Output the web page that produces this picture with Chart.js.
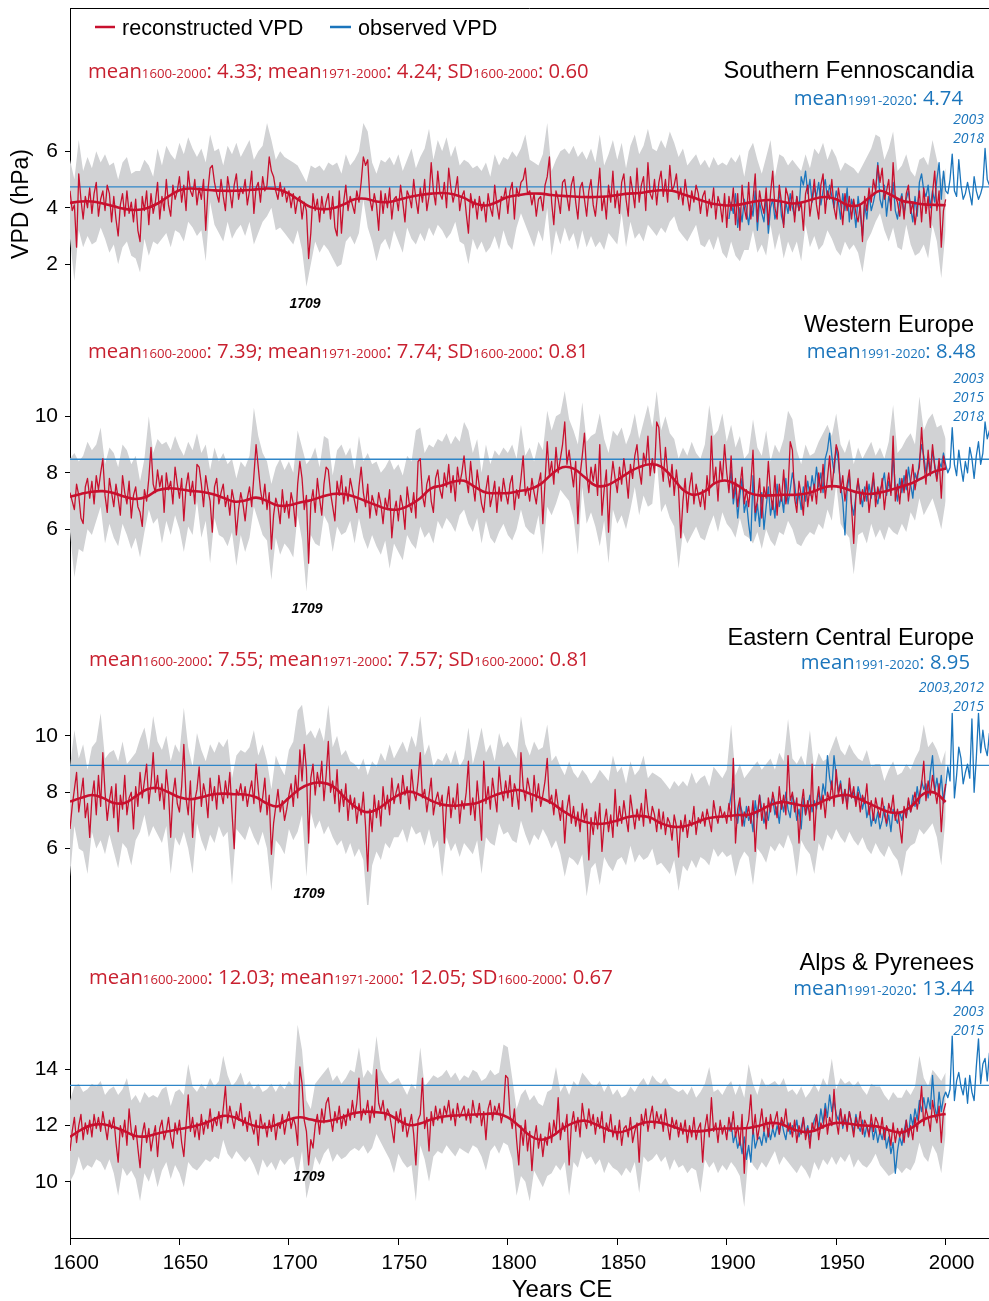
<!DOCTYPE html>
<html>
<head>
<meta charset="utf-8">
<script src="https://cdn.jsdelivr.net/npm/chart.js@4.4.0/dist/chart.umd.min.js"></script>
<style>
  html, body { margin: 0; padding: 0; background: #fff; }
  #wrap { position: relative; width: 989px; height: 1301px; }
</style>
</head>
<body>
<div id="wrap"><canvas id="vpdChart"></canvas></div>
<script>
// first year of each series and spacing between values (years)
const reconStart = 1600
const obsStart = 1901
const bandStep = 2
const smoothStep = 5

const regionNames = ['Southern Fennoscandia', 'Western Europe', 'Eastern Central Europe', 'Alps & Pyrenees']
const reconMeanAll = [4.33, 7.39, 7.55, 12.03]
const reconMeanRecent = [4.24, 7.74, 7.57, 12.05]
const reconSD = [0.60, 0.81, 0.81, 0.67]
const obsMeans = [4.74, 8.48, 8.95, 13.44]
const extremeYears = [['2003', '2018'], ['2003', '2015', '2018'], ['2003,2012', '2015'], ['2003', '2015']]
const markedYear = '1709'

const xTicks = [1600, 1650, 1700, 1750, 1800, 1850, 1900, 1950, 2000]
const yTicks = [[2, 4, 6], [6, 8, 10], [6, 8, 10], [10, 12, 14]]

// ---- Southern Fennoscandia ----
const fennoRecon = [
  4.6, 3.9, 4.1, 2.6, 5.2, 4.3, 3.6, 4.4, 4.0, 4.7,
  3.8, 4.5, 4.9, 3.7, 4.3, 4.6, 3.9, 4.8, 4.5, 3.5,
  4.4, 3.6, 3.0, 4.1, 4.5, 3.7, 4.6, 3.8, 4.2, 3.5,
  4.3, 3.2, 2.8, 4.4, 3.9, 4.6, 3.4, 4.5, 3.8, 4.2,
  4.9, 3.6, 4.4, 3.9, 5.0, 4.1, 3.7, 4.8, 4.3, 4.6,
  5.1, 4.2, 4.8, 3.9, 5.3, 4.6, 4.4, 5.0, 4.1, 4.7,
  4.3, 5.0, 3.2, 4.6, 5.4, 5.5, 4.9, 4.5, 4.2, 5.0,
  4.4, 3.9, 5.1, 4.6, 4.0, 4.8, 5.2, 4.3, 4.7, 4.5,
  5.0, 4.1, 4.6, 5.3, 3.8, 4.7, 4.9, 4.2, 5.1, 4.6,
  4.8, 5.8, 5.3, 5.1, 4.6, 4.3, 4.9, 4.4, 4.7, 4.2,
  4.6, 4.0, 4.5, 3.8, 4.3, 4.4, 3.6, 4.2, 3.9, 2.2,
  3.1, 4.5, 3.9, 4.3, 3.5, 4.4, 3.8, 4.2, 4.5, 3.6,
  4.4, 3.3, 3.0, 4.6, 3.1, 4.2, 4.8, 3.9, 4.4, 4.1,
  3.8, 4.6, 4.2, 4.9, 5.8, 5.5, 5.7, 4.3, 3.9, 4.5,
  4.1, 3.2, 4.6, 3.8, 4.5, 4.0, 4.7, 3.6, 4.3, 4.4,
  3.9, 4.8, 4.2, 3.5, 4.6, 4.4, 4.0, 5.0, 4.3, 3.8,
  4.7, 4.2, 5.0, 3.9, 4.4, 5.6, 4.6, 4.1, 5.3, 4.5,
  4.3, 4.9, 4.0, 5.4, 4.7, 4.2, 4.6, 5.1, 3.9, 4.4,
  4.6, 3.8, 3.1, 4.5, 4.0, 4.3, 3.6, 4.4, 3.9, 4.2,
  3.5, 4.5, 4.0, 3.7, 4.8, 4.1, 3.6, 4.4, 4.3, 4.7,
  3.8, 4.6, 4.9, 3.6, 4.7, 4.4, 4.9, 5.0, 5.4, 4.5,
  4.6, 4.1, 4.5, 3.7, 4.3, 4.4, 3.9, 4.8, 5.1, 5.8,
  4.2, 3.4, 4.6, 4.3, 3.8, 4.9, 5.0, 4.4, 3.9, 4.8,
  5.1, 4.2, 3.6, 4.7, 4.9, 4.3, 3.7, 4.6, 5.0, 4.1,
  3.7, 4.5, 5.4, 3.9, 4.4, 3.6, 4.8, 4.2, 5.3, 4.0,
  4.6, 3.8, 4.9, 5.2, 4.3, 3.7, 5.1, 4.6, 4.0, 5.4,
  4.2, 4.8, 5.1, 3.9, 5.6, 4.5, 4.3, 5.0, 4.1, 4.9,
  5.3, 4.4, 5.0, 4.2, 5.5, 4.6, 4.8, 5.2, 4.3, 4.7,
  4.1, 5.0, 4.4, 3.9, 4.6, 4.2, 4.8, 4.5, 3.8, 4.4,
  4.6, 3.7, 4.3, 4.0, 4.7, 3.6, 4.4, 4.1, 3.5, 4.5,
  3.3, 4.4, 3.9, 4.7, 3.4, 4.5, 3.2, 4.8, 4.0, 3.6,
  4.9, 3.6, 4.3, 5.2, 3.5, 4.6, 4.1, 3.8, 4.7, 3.4,
  4.5, 5.3, 4.0, 3.6, 4.8, 4.2, 3.3, 4.7, 4.4, 3.9,
  4.6, 3.5, 4.4, 3.9, 4.2, 3.2, 4.5, 4.8, 3.7, 4.3,
  5.0, 4.1, 3.6, 4.8, 5.2, 3.8, 4.6, 4.3, 5.0, 4.0,
  3.6, 4.7, 4.2, 3.4, 4.5, 3.9, 4.4, 3.6, 4.3, 3.8,
  3.5, 4.1, 2.8, 4.4, 3.9, 4.7, 4.2, 5.0, 4.6, 5.5,
  4.9, 5.4, 4.3, 4.6, 5.0, 3.9, 5.6, 4.4, 4.2, 3.7,
  4.4, 3.6, 4.5, 4.8, 3.8, 4.2, 3.4, 4.0, 4.6, 3.5,
  4.7, 3.8, 4.4, 3.3, 4.5, 5.3, 3.9, 4.6, 2.6, 3.9,
  4.3
]
const fennoUpper = [
  5.7, 5.0, 6.4, 5.3, 5.8, 5.4, 6.0, 5.6, 5.9, 5.5,
  5.6, 5.0, 5.6, 5.8, 5.2, 5.3, 5.3, 5.7, 5.5, 5.1,
  6.1, 5.5, 6.2, 5.9, 5.7, 6.3, 5.9, 6.5, 6.1, 5.8,
  6.1, 5.6, 6.6, 6.0, 6.1, 5.5, 6.2, 5.9, 6.3, 5.8,
  6.1, 6.4, 5.7, 6.0, 6.2, 7.0, 6.4, 5.7, 6.0, 5.8,
  5.7, 5.6, 5.5, 5.2, 4.9, 5.5, 5.4, 5.5, 5.3, 5.6,
  5.5, 5.6, 5.2, 5.9, 5.5, 5.7, 6.0, 7.0, 6.7, 5.6,
  5.2, 5.7, 5.6, 5.8, 5.5, 5.9, 5.3, 5.7, 6.1, 5.4,
  5.8, 6.1, 6.8, 5.7, 6.4, 6.0, 6.5, 5.8, 6.2, 5.5,
  5.7, 5.6, 5.4, 5.5, 5.3, 5.6, 5.1, 5.9, 5.5, 5.8,
  5.7, 6.0, 5.8, 6.1, 6.6, 5.7, 5.6, 5.5, 5.9, 7.0,
  5.3, 5.7, 6.0, 6.1, 5.9, 6.2, 5.8, 6.0, 5.7, 6.1,
  5.6, 6.6, 5.5, 5.9, 6.4, 5.7, 6.3, 5.4, 6.2, 6.6,
  5.9, 6.2, 6.8, 6.1, 6.0, 6.4, 6.1, 6.7, 6.3, 5.8,
  6.1, 5.5, 5.7, 5.9, 5.5, 5.7, 5.4, 5.8, 5.5, 5.6,
  5.5, 5.8, 5.6, 5.9, 5.1, 6.0, 6.3, 5.7, 5.2, 5.8,
  6.4, 5.1, 5.9, 5.8, 5.5, 5.7, 5.5, 5.3, 5.9, 5.4,
  6.1, 5.9, 6.3, 5.7, 6.1, 5.8, 5.3, 5.6, 5.5, 5.4,
  5.2, 5.5, 5.8, 6.1, 6.6, 6.5, 5.7, 6.1, 6.7, 5.3,
  5.5, 5.9, 5.3, 5.1, 5.7, 5.8, 5.5, 6.4, 5.7, 5.0,
  5.4
]
const fennoLower = [
  2.9, 1.4, 3.2, 2.6, 3.0, 2.7, 2.8, 3.3, 2.9, 2.4,
  2.7, 2.0, 2.6, 2.8, 2.3, 2.2, 1.7, 2.9, 2.3, 2.8,
  2.7, 2.9, 3.1, 2.6, 3.2, 3.1, 2.8, 3.5, 3.3, 3.0,
  3.2, 2.1, 4.2, 3.4, 3.1, 2.8, 3.5, 2.9, 3.2, 3.4,
  3.0, 3.5, 2.7, 3.1, 3.5, 3.7, 4.0, 3.2, 3.3, 3.1,
  2.9, 2.7, 3.2, 2.5, 1.2, 2.0, 2.8, 2.4, 2.7, 2.5,
  2.2, 1.9, 2.0, 2.8, 3.0, 2.7, 3.1, 4.3, 3.3, 2.8,
  2.1, 2.7, 2.9, 2.5, 3.2, 2.8, 2.4, 3.3, 2.9, 2.7,
  3.1, 2.8, 3.3, 3.0, 3.4, 3.2, 2.9, 3.1, 3.5, 2.8,
  2.7, 2.0, 2.9, 2.5, 2.8, 2.4, 2.6, 3.0, 2.5, 3.2,
  2.7, 2.5, 3.3, 3.8, 3.4, 3.0, 2.6, 3.2, 2.8, 4.0,
  2.3, 3.2, 2.7, 3.3, 2.8, 3.1, 2.5, 3.2, 2.6, 3.0,
  2.6, 2.8, 2.5, 3.1, 2.9, 2.7, 3.8, 2.6, 3.5, 2.9,
  3.1, 2.8, 3.4, 3.2, 3.0, 3.3, 3.1, 3.5, 3.7, 3.2,
  3.0, 2.8, 3.1, 3.4, 2.7, 2.6, 2.9, 2.5, 3.0, 2.4,
  2.2, 2.8, 2.3, 2.1, 2.5, 2.5, 3.2, 2.4, 2.7, 2.3,
  3.4, 2.5, 3.1, 2.2, 2.8, 2.4, 2.8, 2.1, 3.4, 2.6,
  3.0, 2.5, 2.7, 3.2, 2.9, 2.5, 2.3, 2.8, 2.5, 2.7,
  2.4, 1.7, 2.8, 3.1, 3.5, 3.8, 3.2, 2.8, 3.3, 2.6,
  2.5, 3.4, 2.7, 2.3, 2.4, 2.7, 2.2, 3.4, 2.8, 1.5,
  3.2
]
const fennoSmooth = [
  4.17, 4.22, 4.22, 4.15, 4.05, 3.96, 3.92, 3.98, 4.15, 4.4,
  4.62, 4.68, 4.65, 4.62, 4.6, 4.6, 4.62, 4.65, 4.68, 4.65,
  4.5, 4.25, 4.02, 3.95, 3.98, 4.12, 4.3, 4.32, 4.22, 4.2,
  4.28, 4.38, 4.45, 4.5, 4.52, 4.48, 4.35, 4.15, 4.08, 4.2,
  4.38, 4.45, 4.5, 4.5, 4.45, 4.42, 4.4, 4.38, 4.38, 4.4,
  4.45, 4.5, 4.52, 4.58, 4.62, 4.6, 4.48, 4.35, 4.22, 4.12,
  4.08, 4.1, 4.18, 4.25, 4.27, 4.22, 4.15, 4.2, 4.32, 4.38,
  4.3, 4.1, 4.08, 4.35, 4.6, 4.45, 4.25, 4.18, 4.12, 4.1,
  4.09
]
const fennoObs = [
  3.6, 4.2, 3.8, 4.5, 3.3, 4.0, 3.5, 4.3, 3.9, 3.4,
  4.1, 3.7, 4.6, 3.2, 4.2, 3.8, 3.5, 4.4, 3.1, 4.0,
  4.3, 3.6, 3.9, 4.6, 3.7, 3.4, 4.2, 3.8, 4.5, 4.0,
  3.7, 4.4, 3.9, 5.1, 4.8, 5.3, 4.5, 5.0, 4.2, 4.7,
  4.4, 4.9, 4.1, 4.6, 5.0, 4.3, 4.8, 4.4, 4.0, 4.6,
  4.2, 3.6, 4.5, 3.9, 4.7, 3.5, 4.3, 4.0, 3.3, 4.4,
  3.8, 3.0, 4.1, 3.6, 4.5, 3.9, 4.2, 4.6, 5.6, 4.3,
  4.0, 4.8, 3.7, 4.4, 4.1, 4.9, 3.9, 3.6, 4.2, 4.5,
  3.8, 4.3, 4.6, 4.0, 3.5, 4.4, 3.7, 4.9, 5.2, 4.6,
  4.4, 4.8, 4.0, 4.6, 4.2, 5.0, 5.6, 4.3, 5.3, 4.6,
  4.5, 5.0, 5.9, 4.6, 4.4, 5.7, 4.8, 4.3, 4.5, 4.9,
  4.5, 4.1, 5.1, 4.6, 4.3, 4.5, 4.8, 6.1, 5.0, 4.8
]

// ---- Western Europe ----
const westRecon = [
  7.3, 7.0, 6.7, 7.6, 7.2, 6.4, 6.2, 7.5, 7.8, 7.1,
  7.7, 6.9, 7.9, 7.4, 8.0, 8.5, 7.2, 6.6, 7.8, 7.3,
  6.8, 7.6, 7.1, 6.5, 7.9, 7.3, 6.9, 7.7, 6.4, 7.2,
  7.5, 6.8, 6.6, 6.1, 7.4, 7.0, 7.8, 8.9, 7.6, 7.3,
  8.1, 7.5, 7.9, 6.6, 8.0, 7.4, 7.7, 6.9, 8.2, 7.6,
  7.1, 7.8, 6.3, 7.5, 8.0, 7.2, 7.7, 6.9, 8.3, 8.2,
  7.6, 6.8, 7.9, 7.4, 7.0, 5.9, 7.5, 7.8, 6.9, 7.3,
  7.6, 6.8, 7.2, 6.5, 7.4, 7.0, 5.8, 6.7, 7.3, 6.9,
  6.3, 7.1, 7.5, 6.8, 7.9, 9.0, 8.2, 7.4, 6.9, 7.6,
  6.7, 7.3, 5.3, 6.5, 7.1, 6.8, 6.2, 7.4, 6.6, 7.0,
  6.4, 7.3, 6.9, 6.1, 7.6, 8.4, 7.8, 6.7, 7.2, 4.8,
  6.9, 7.4, 6.6, 7.8, 7.1, 6.5, 7.6, 8.2, 8.1, 7.3,
  6.8, 6.3, 7.7, 7.2, 7.9, 6.9, 7.5, 7.0, 7.8, 7.4,
  7.0, 6.6, 7.5, 8.2, 7.3, 6.8, 7.6, 6.4, 7.2, 6.9,
  6.5, 7.3, 6.9, 6.2, 7.1, 6.7, 7.4, 5.7, 6.6, 7.0,
  6.3, 7.2, 6.8, 6.0, 7.5, 6.9, 6.6, 7.3, 6.4, 8.4,
  8.5, 7.2, 6.8, 7.6, 7.9, 7.0, 6.6, 7.8, 8.1, 7.4,
  7.1, 8.0, 7.5, 8.3, 7.3, 7.9, 7.0, 8.2, 7.6, 8.0,
  8.6, 7.8, 7.3, 8.4, 7.6, 7.0, 8.1, 7.5, 6.9, 6.6,
  7.4, 7.9, 6.8, 7.2, 7.7, 6.6, 7.5, 7.0, 7.8, 7.3,
  6.9, 7.6, 7.9, 6.7, 7.4, 7.1, 7.8, 8.6, 7.2, 7.5,
  7.0, 7.8, 7.3, 6.9, 7.6, 8.0, 6.2, 7.7, 9.1, 7.9,
  8.4, 7.6, 8.9, 8.0, 8.5, 9.0, 9.8, 8.3, 8.8, 8.1,
  7.5, 8.4, 6.2, 7.9, 8.6, 9.4, 8.0, 7.3, 8.2, 7.7,
  8.3, 7.2, 9.0, 6.5, 7.4, 8.1, 5.9, 7.6, 8.4, 7.8,
  7.3, 8.2, 7.6, 8.5, 7.9, 7.1, 8.3, 7.8, 8.6, 9.0,
  8.1, 7.6, 8.7, 8.3, 9.3, 7.9, 8.5, 8.0, 9.8, 9.6,
  8.4, 7.7, 8.9, 8.0, 7.5, 8.3, 7.2, 8.1, 7.4, 5.7,
  7.0, 7.8, 6.6, 7.5, 8.0, 6.9, 7.6, 7.2, 6.8, 7.4,
  6.7, 7.9, 7.2, 9.3, 7.6, 8.2, 7.0, 8.4, 7.7, 9.0,
  8.0, 7.3, 8.6, 7.1, 7.8, 6.8, 7.5, 8.2, 6.9, 7.4,
  6.8, 7.6, 8.8, 6.6, 7.0, 7.8, 6.4, 7.5, 7.1, 8.4,
  7.3, 6.7, 7.9, 6.5, 7.6, 7.0, 8.1, 6.9, 7.4, 9.1,
  8.8, 7.1, 6.6, 7.7, 7.2, 6.5, 7.9, 6.8, 7.5, 7.0,
  7.6, 6.9, 8.0, 7.3, 8.3, 7.1, 7.8, 8.6, 7.4, 8.2,
  9.0, 8.7, 7.3, 7.9, 7.0, 7.6, 8.1, 6.8, 5.5, 7.2,
  7.8, 6.9, 7.4, 7.0, 7.7, 6.6, 7.3, 8.0, 6.8, 7.5,
  7.1, 7.8, 6.7, 7.4, 8.0, 7.2, 9.3, 7.0, 7.6, 6.9,
  7.8, 7.3, 8.1, 7.0, 7.7, 8.3, 7.4, 7.9, 8.2, 9.6,
  8.4, 7.6, 8.8, 7.9, 9.0, 8.2, 7.7, 8.5, 7.1, 8.6,
  8.1
]
const westUpper = [
  8.5, 8.7, 8.4, 8.6, 9.1, 8.8, 9.0, 9.6, 8.3, 8.9,
  8.7, 8.2, 9.0, 8.8, 8.3, 8.6, 7.7, 8.5, 10.0, 8.7,
  9.2, 9.0, 9.1, 8.8, 9.3, 8.9, 8.6, 9.1, 8.8, 9.4,
  8.7, 9.0, 8.1, 8.9, 8.4, 8.7, 8.3, 8.5, 7.8, 8.4,
  8.2, 8.6, 10.3, 9.3, 8.7, 8.4, 7.6, 8.2, 8.5, 8.1,
  8.4, 8.0, 9.5, 8.9, 8.3, 8.5, 8.9, 8.2, 9.3, 9.2,
  7.9, 8.8, 9.0, 8.6, 8.9, 8.1, 9.3, 8.4, 8.7, 8.3,
  8.4, 8.0, 8.2, 8.5, 8.1, 8.3, 7.9, 8.6, 8.4, 9.5,
  9.6, 8.7, 9.0, 8.9, 9.2, 9.1, 9.4, 9.0, 9.3, 9.1,
  9.8, 9.5, 8.7, 9.2, 8.0, 9.0, 8.3, 8.8, 8.6, 8.9,
  8.7, 9.0, 8.5, 9.7, 8.6, 8.9, 8.4, 9.1, 8.8, 10.2,
  9.5, 10.0, 10.1, 10.9, 9.9, 9.5, 9.0, 10.5, 9.1, 9.3,
  9.4, 10.1, 9.2, 8.7, 9.5, 9.3, 9.6, 9.0, 9.4, 10.1,
  9.2, 9.8, 10.4, 9.6, 10.9, 9.5, 10.0, 9.4, 9.2, 8.5,
  8.9, 8.6, 9.1, 8.7, 8.5, 9.0, 10.4, 9.3, 9.5, 10.1,
  9.1, 9.7, 8.9, 9.3, 8.5, 8.7, 9.9, 8.9, 8.6, 9.5,
  8.4, 9.0, 8.7, 9.2, 10.2, 9.9, 8.8, 8.3, 9.0, 8.6,
  8.7, 9.1, 9.4, 9.7, 9.3, 10.1, 9.0, 8.7, 9.2, 8.3,
  8.9, 8.5, 8.8, 9.1, 8.6, 8.9, 8.5, 9.1, 10.4, 8.7,
  8.9, 9.2, 9.4, 9.0, 10.7, 9.5, 9.9, 10.1, 9.6, 9.7,
  9.2
]
const westLower = [
  5.9, 4.3, 5.3, 5.2, 6.0, 5.8, 6.3, 6.8, 5.5, 6.2,
  5.7, 5.4, 6.2, 5.8, 5.3, 5.7, 5.0, 5.9, 6.7, 6.2,
  6.4, 5.5, 6.3, 5.8, 6.5, 6.0, 5.2, 6.1, 5.8, 7.0,
  5.7, 6.3, 4.8, 6.4, 5.8, 5.7, 5.4, 5.9, 4.7, 5.8,
  5.2, 5.7, 6.8, 6.3, 5.8, 5.6, 4.2, 5.7, 5.1, 5.5,
  5.3, 5.0, 6.5, 5.6, 3.8, 5.8, 5.5, 5.4, 6.5, 6.2,
  5.2, 6.1, 5.8, 5.9, 6.3, 5.5, 6.4, 5.7, 5.3, 5.8,
  5.4, 5.1, 5.6, 4.6, 5.5, 5.2, 4.9, 5.8, 5.5, 5.3,
  6.1, 5.7, 5.9, 5.5, 6.3, 6.0, 6.4, 6.2, 5.9, 6.5,
  6.7, 6.2, 5.9, 6.4, 5.5, 6.3, 5.7, 5.5, 5.9, 6.2,
  5.8, 5.6, 6.0, 6.7, 6.1, 5.9, 5.8, 6.5, 5.1, 6.8,
  6.5, 6.9, 7.4, 7.2, 7.0, 6.4, 5.1, 7.5, 6.2, 6.6,
  6.1, 5.4, 6.3, 4.8, 6.7, 6.2, 6.5, 6.0, 6.7, 7.5,
  6.5, 7.2, 6.8, 6.9, 8.5, 6.6, 6.9, 6.4, 6.1, 4.6,
  5.9, 5.5, 5.8, 6.1, 5.7, 5.6, 6.1, 6.5, 5.9, 6.6,
  6.2, 6.0, 5.7, 6.4, 5.8, 5.7, 5.5, 5.9, 5.3, 6.0,
  5.6, 5.4, 5.9, 5.8, 6.3, 6.0, 5.5, 5.4, 5.7, 5.9,
  5.8, 6.2, 6.0, 6.7, 6.3, 7.6, 6.2, 5.9, 5.7, 4.4,
  5.8, 5.9, 5.5, 6.2, 5.7, 6.0, 5.6, 6.1, 5.9, 5.8,
  6.2, 5.9, 6.6, 6.3, 7.1, 6.5, 6.8, 7.1, 6.6, 6.0,
  7.0
]
const westSmooth = [
  7.15, 7.25, 7.33, 7.35, 7.28, 7.15, 7.07, 7.15, 7.38, 7.45,
  7.42, 7.36, 7.33, 7.25, 7.12, 6.98, 7.02, 7.12, 7.0, 6.84,
  6.85, 6.95, 7.03, 7.15, 7.25, 7.25, 7.15, 7.0, 6.85, 6.72,
  6.7, 6.85, 7.1, 7.45, 7.55, 7.68, 7.72, 7.5, 7.3, 7.28,
  7.28, 7.35, 7.42, 7.6, 7.95, 8.2, 8.15, 7.85, 7.55, 7.55,
  7.75, 8.0, 8.2, 8.3, 8.22, 7.85, 7.4, 7.22, 7.35, 7.65,
  7.72, 7.55, 7.3, 7.2, 7.2, 7.22, 7.22, 7.25, 7.35, 7.5,
  7.52, 7.42, 7.3, 7.25, 7.3, 7.4, 7.52, 7.65, 7.85, 8.05,
  8.15
]
const westObs = [
  7.4, 8.1, 6.9, 7.5, 6.4, 7.2, 7.8, 6.6, 7.0, 6.2,
  5.6, 7.9, 6.3, 6.9, 6.1, 7.3, 6.0, 6.8, 7.5, 6.5,
  7.0, 6.4, 7.6, 6.8, 7.2, 6.6, 7.8, 6.9, 7.4, 8.0,
  7.6, 6.9, 7.3, 6.7, 7.5, 7.0, 7.7, 7.2, 7.9, 7.4,
  8.2, 7.5, 8.0, 7.3, 8.5, 8.8, 9.4, 8.6, 8.0, 8.9,
  8.4, 7.6, 7.0, 5.8, 7.4, 7.9, 6.9, 6.5, 7.2, 7.7,
  7.3, 6.8, 7.5, 7.0, 7.6, 7.1, 7.8, 7.2, 6.9, 7.4,
  7.6, 8.0, 7.2, 7.7, 7.3, 8.6, 7.5, 7.0, 7.8, 7.3,
  7.9, 7.4, 8.2, 7.6, 7.1, 8.0, 7.7, 8.4, 9.0, 8.6,
  8.0, 8.5, 7.9, 8.8, 8.3, 7.8, 8.4, 8.2, 8.7, 8.3,
  8.0, 8.2, 9.6, 8.3, 7.9, 8.8, 8.2, 7.7, 8.4, 8.0,
  8.9, 8.5, 7.8, 8.6, 9.1, 8.3, 8.7, 9.8, 9.2, 9.5
]

// ---- Eastern Central Europe ----
const eastRecon = [
  6.7, 7.5, 8.1, 8.7, 7.3, 7.9, 8.5, 7.1, 7.6, 6.4,
  7.8, 8.4, 7.2, 8.6, 7.5, 9.4, 8.0, 7.0, 7.7, 8.2,
  7.1, 8.3, 6.6, 7.9, 7.4, 8.6, 7.2, 7.8, 8.0, 6.7,
  8.2, 7.5, 8.7, 7.8, 8.4, 9.0, 7.6, 8.3, 9.4, 8.0,
  8.6, 7.7, 8.3, 7.4, 8.8, 8.0, 6.4, 7.9, 8.5, 7.6,
  7.3, 8.2, 9.7, 7.8, 7.2, 8.4, 6.4, 7.7, 8.1, 8.9,
  7.5, 8.3, 7.9, 7.1, 8.5, 7.7, 8.2, 7.4, 8.6, 8.0,
  7.6, 8.4, 7.8, 8.7, 7.3, 6.0, 8.1, 7.9, 8.3, 7.7,
  8.2, 7.5, 8.0, 8.4, 7.6, 9.0, 8.1, 7.3, 7.8, 8.5,
  7.2, 7.9, 5.8, 6.9, 7.5, 8.1, 7.3, 7.7, 7.0, 7.4,
  7.9, 8.3, 7.5, 8.6, 7.8, 9.5, 8.4, 9.7, 8.8, 6.2,
  8.5, 9.0, 7.9, 8.7, 8.2, 9.1, 7.7, 8.6, 9.8, 8.0,
  8.4, 7.6, 8.8, 7.3, 8.1, 7.5, 8.3, 7.0, 7.9, 7.4,
  7.8, 6.9, 7.6, 7.2, 8.0, 6.8, 5.2, 7.4, 6.6, 7.9,
  7.1, 7.7, 6.8, 8.2, 7.4, 7.9, 7.2, 8.5, 7.6, 8.0,
  8.3, 7.6, 8.6, 7.9, 8.2, 7.4, 8.8, 8.0, 7.7, 8.4,
  9.4, 7.8, 8.1, 7.3, 7.9, 8.5, 7.2, 7.7, 8.0, 7.5,
  7.9, 6.2, 7.6, 8.2, 7.1, 7.8, 7.4, 8.3, 6.9, 7.7,
  7.4, 8.0, 9.1, 7.2, 7.8, 7.0, 8.4, 7.5, 6.3, 9.1,
  7.6, 8.2, 7.4, 8.5, 7.9, 7.3, 8.9, 8.1, 7.7, 8.4,
  7.8, 8.6, 7.5, 8.3, 8.0, 7.4, 9.4, 8.2, 7.7, 8.5,
  8.1, 7.3, 8.6, 7.7, 8.3, 7.5, 7.9, 8.4, 9.2, 7.6,
  7.9, 7.2, 8.1, 7.5, 7.0, 7.7, 6.2, 7.4, 7.9, 6.9,
  7.5, 6.8, 7.3, 6.6, 7.6, 7.0, 7.4, 5.6, 7.1, 6.5,
  7.3, 6.7, 7.6, 5.9, 6.9, 7.4, 6.6, 7.2, 6.4, 8.1,
  6.8, 7.5, 6.9, 7.7, 7.1, 6.6, 7.9, 7.3, 6.7, 7.4,
  7.0, 7.6, 6.8, 8.1, 7.3, 6.9, 7.5, 7.2, 6.6, 7.4,
  6.7, 7.3, 6.5, 7.1, 6.9, 6.3, 7.2, 6.8, 5.7, 7.0,
  6.6, 7.2, 6.4, 7.0, 6.8, 7.5, 6.5, 7.1, 6.9, 7.3,
  6.8, 7.4, 7.0, 6.6, 7.7, 7.2, 6.9, 7.5, 7.1, 7.3,
  6.9, 7.6, 7.0, 9.2, 6.2, 7.4, 7.8, 6.8, 7.3, 7.1,
  7.5, 6.9, 7.7, 5.9, 7.2, 7.9, 7.0, 7.6, 6.7, 7.8,
  7.3, 8.0, 7.6, 7.1, 8.2, 7.4, 7.9, 7.2, 9.3, 7.7,
  8.0, 7.3, 7.8, 6.2, 7.5, 8.1, 7.2, 7.7, 7.0, 9.0,
  6.3, 7.6, 8.2, 7.4, 7.9, 7.1, 8.0, 7.7, 8.4, 7.5,
  8.8, 7.9, 8.3, 7.6, 8.1, 7.4, 8.5, 7.8, 8.2, 7.5,
  8.0, 7.3, 7.9, 7.6, 8.3, 7.2, 7.7, 7.0, 7.8, 7.4,
  7.1, 7.8, 7.2, 6.9, 7.6, 7.3, 7.9, 7.0, 7.4, 6.8,
  6.2, 7.5, 7.1, 7.8, 7.3, 7.6, 8.0, 7.4, 7.9, 8.3,
  9.1, 7.7, 8.4, 7.9, 8.6, 8.1, 7.6, 8.3, 6.6, 7.8,
  8.3
]
const eastUpper = [
  8.9, 10.2, 9.2, 9.7, 8.8, 9.6, 9.8, 10.8, 9.2, 9.4,
  9.5, 9.1, 9.8, 9.0, 9.2, 9.4, 9.9, 10.3, 9.5, 10.7,
  9.8, 9.5, 10.0, 9.1, 9.7, 9.4, 11.0, 9.6, 8.9, 10.1,
  9.5, 9.1, 9.7, 9.4, 9.8, 9.6, 9.9, 8.5, 9.3, 9.5,
  9.4, 9.6, 10.2, 9.3, 9.7, 9.1, 8.1, 9.3, 8.9, 8.6,
  9.5, 9.8, 10.9, 11.1, 10.0, 10.2, 9.9, 10.3, 9.8, 11.1,
  9.6, 10.0, 9.3, 9.5, 9.1, 9.0, 8.8, 9.2, 8.6, 9.1,
  8.9, 9.4, 9.1, 9.7, 9.2, 9.5, 9.8, 9.4, 10.0, 9.6,
  10.7, 9.3, 9.7, 8.9, 9.2, 9.1, 9.4, 9.0, 9.5, 8.9,
  9.2, 10.3, 9.0, 9.6, 10.3, 9.4, 9.7, 9.1, 10.1, 9.6,
  9.8, 9.5, 9.2, 10.7, 9.7, 9.3, 9.8, 9.5, 9.6, 10.4,
  9.1, 9.3, 8.9, 8.6, 9.1, 8.7, 8.5, 8.8, 8.6, 8.3,
  8.5, 8.8, 8.6, 8.4, 9.3, 8.7, 8.9, 8.3, 9.1, 8.6,
  8.8, 9.3, 8.5, 8.7, 8.6, 8.5, 8.3, 8.1, 8.4, 8.2,
  8.4, 8.2, 8.7, 8.3, 8.5, 8.6, 8.2, 8.9, 8.7, 8.5,
  8.8, 10.4, 8.6, 9.0, 8.5, 8.7, 8.9, 9.1, 8.8, 9.0,
  9.2, 8.8, 9.4, 9.1, 10.6, 9.2, 9.0, 9.3, 8.9, 10.2,
  8.8, 9.4, 9.1, 9.2, 9.6, 10.0, 9.5, 9.3, 9.7, 9.4,
  9.2, 9.1, 9.5, 8.9, 9.0, 9.0, 8.4, 8.8, 9.1, 8.6,
  8.7, 9.0, 8.8, 9.2, 9.5, 10.4, 9.6, 9.8, 9.5, 9.0,
  9.5
]
const eastLower = [
  5.0, 6.8, 6.0, 5.9, 5.1, 6.6, 6.0, 6.3, 5.8, 6.5,
  5.9, 5.3, 6.2, 6.0, 5.4, 6.3, 6.6, 7.2, 6.4, 6.8,
  6.5, 6.2, 6.8, 5.1, 6.4, 6.1, 6.6, 6.0, 5.1, 6.9,
  6.3, 5.9, 6.5, 6.2, 6.8, 6.4, 6.6, 4.7, 6.7, 6.5,
  6.3, 6.8, 6.4, 6.1, 6.6, 6.0, 4.5, 6.3, 6.1, 5.8,
  6.7, 6.3, 6.6, 7.2, 5.0, 7.3, 6.7, 7.0, 6.5, 6.8,
  6.4, 6.1, 6.3, 5.8, 6.2, 5.7, 6.0, 5.6, 3.7, 5.4,
  5.9, 5.6, 6.2, 6.0, 6.4, 6.4, 6.7, 6.2, 6.8, 6.5,
  6.6, 6.1, 6.7, 6.0, 6.3, 5.0, 6.4, 5.9, 6.2, 5.7,
  6.2, 6.0, 5.8, 6.3, 5.1, 6.4, 6.2, 6.1, 6.9, 6.5,
  6.6, 6.3, 6.2, 7.0, 6.5, 6.1, 6.5, 6.3, 6.7, 6.4,
  6.0, 6.3, 5.8, 5.0, 5.7, 5.6, 5.4, 5.8, 4.3, 5.3,
  5.5, 4.7, 5.7, 5.4, 5.2, 5.6, 5.7, 5.4, 6.1, 5.5,
  5.8, 5.6, 5.7, 6.0, 5.4, 5.5, 5.3, 5.1, 5.6, 4.5,
  5.4, 5.2, 5.6, 5.3, 5.7, 5.6, 5.4, 6.0, 5.7, 5.9,
  5.7, 5.8, 5.0, 5.6, 5.9, 5.7, 4.7, 6.0, 5.8, 5.5,
  6.1, 5.9, 6.2, 6.0, 6.5, 6.1, 5.0, 6.3, 6.0, 5.8,
  5.1, 6.2, 5.9, 6.5, 6.3, 6.7, 6.4, 6.2, 6.6, 6.3,
  6.1, 6.4, 6.0, 5.8, 6.2, 5.9, 5.7, 6.1, 5.8, 5.6,
  5.0, 5.9, 6.1, 6.2, 6.7, 6.5, 6.7, 6.9, 6.4, 5.4,
  7.1
]
const eastSmooth = [
  7.67, 7.8, 7.9, 7.8, 7.62, 7.62, 7.85, 8.1, 8.15, 8.0,
  7.82, 7.75, 7.82, 7.92, 7.95, 7.93, 7.92, 7.82, 7.6, 7.5,
  7.8, 8.12, 8.3, 8.34, 8.22, 7.85, 7.5, 7.3, 7.38, 7.65,
  7.9, 8.02, 7.9, 7.7, 7.56, 7.52, 7.56, 7.6, 7.75, 7.92,
  8.02, 8.08, 7.95, 7.8, 7.62, 7.35, 7.12, 6.95, 6.88, 6.9,
  7.0, 7.12, 7.16, 7.1, 6.9, 6.78, 6.78, 6.9, 7.05, 7.12,
  7.15, 7.19, 7.2, 7.35, 7.55, 7.65, 7.6, 7.52, 7.55, 7.72,
  7.86, 7.9, 7.78, 7.6, 7.42, 7.28, 7.3, 7.55, 7.95, 7.98,
  7.65
]
const eastObs = [
  7.4, 7.9, 8.3, 7.2, 6.9, 7.6, 7.3, 6.8, 7.5, 7.0,
  7.2, 6.6, 7.7, 7.1, 7.9, 7.4, 6.9, 7.3, 7.0, 7.6,
  7.8, 7.2, 7.5, 6.9, 7.7, 7.3, 8.0, 7.4, 7.1, 7.9,
  7.6, 7.0, 7.4, 6.7, 7.8, 7.2, 7.5, 7.9, 7.3, 7.7,
  7.4, 8.0, 7.6, 8.3, 7.9, 9.3, 8.5, 8.1, 9.3, 8.6,
  8.0, 8.4, 7.7, 8.1, 7.5, 8.3, 7.8, 8.0, 7.6, 8.2,
  7.9, 7.4, 7.8, 7.1, 7.5, 6.8, 7.2, 6.9, 7.3, 6.7,
  7.0, 7.5, 6.8, 7.2, 6.6, 7.4, 7.1, 6.9, 7.3, 7.0,
  7.4, 7.1, 7.7, 7.3, 7.9, 7.5, 8.2, 7.6, 8.4, 8.1,
  8.3, 7.8, 8.7, 9.3, 8.0, 8.5, 7.9, 8.6, 7.6, 8.2,
  8.9, 8.4, 10.8, 7.8, 8.6, 9.6, 9.2, 8.3, 8.7, 9.0,
  8.5, 10.6, 8.0, 9.2, 10.8, 9.4, 10.2, 9.6, 9.3, 10.1
]

// ---- Alps & Pyrenees ----
const alpsRecon = [
  11.1, 11.8, 12.3, 11.4, 12.0, 12.4, 11.5, 12.1, 11.7, 12.2,
  11.6, 12.4, 11.9, 12.3, 11.8, 12.5, 12.0, 11.5, 12.2, 11.9,
  12.3, 11.4, 10.7, 12.0, 11.6, 12.2, 11.3, 12.6, 11.8, 11.5,
  12.0, 11.2, 10.5, 11.7, 12.1, 11.4, 11.9, 11.1, 11.6, 12.0,
  10.9, 11.9, 12.2, 11.5, 11.8, 12.3, 11.6, 11.2, 12.1, 11.7,
  12.2, 11.4, 10.9, 12.0, 13.1, 11.8, 12.3, 11.6, 12.1, 11.5,
  12.4, 11.7, 12.2, 11.9, 12.6, 11.8, 12.3, 12.0, 12.5, 11.9,
  12.6, 13.4, 12.1, 12.7, 12.3, 11.9, 12.5, 12.2, 12.8, 12.0,
  12.3, 11.8, 12.5, 12.0, 11.7, 12.2, 11.3, 12.4, 11.9, 12.1,
  11.6, 12.2, 11.8, 12.4, 11.5, 12.1, 11.9, 12.4, 11.7, 12.2,
  12.5, 11.9, 12.3, 12.0, 11.3, 14.1, 13.5, 12.2, 11.8, 10.6,
  11.5, 11.2, 12.0, 12.4, 11.7, 12.6, 12.1, 12.8, 13.0, 12.3,
  11.8, 12.5, 12.1, 12.7, 11.9, 12.4, 12.0, 12.6, 12.2, 12.9,
  12.3, 12.8, 13.7, 12.2, 12.6, 12.4, 12.9, 12.1, 12.7, 12.3,
  14.0, 12.8, 12.5, 12.9, 12.2, 12.6, 12.4, 11.9, 11.4, 12.5,
  12.1, 12.6, 11.8, 12.3, 11.6, 12.0, 12.4, 11.7, 10.6, 12.2,
  12.4, 13.7, 11.9, 12.3, 11.1, 12.5, 12.0, 12.7, 12.2, 12.6,
  12.1, 12.7, 12.4, 12.9, 12.2, 12.6, 12.0, 12.8, 12.3, 12.5,
  12.7, 12.2, 12.6, 12.1, 12.9, 12.4, 12.3, 12.8, 12.0, 12.5,
  11.5, 12.6, 12.9, 12.2, 12.7, 12.4, 12.8, 12.1, 12.5, 13.8,
  13.7, 12.4, 11.9, 12.6, 11.5, 10.6, 12.0, 11.3, 12.2, 11.1,
  11.8, 10.4, 11.5, 12.0, 11.2, 11.7, 10.9, 11.6, 11.3, 12.1,
  11.4, 12.2, 11.7, 13.0, 11.5, 12.1, 11.8, 12.4, 10.6, 12.0,
  12.5, 11.8, 12.3, 11.6, 12.8, 12.2, 11.9, 12.6, 12.0, 12.4,
  11.7, 12.3, 11.9, 12.5, 11.4, 12.1, 11.8, 12.4, 11.6, 12.0,
  11.5, 12.2, 11.3, 11.9, 12.0, 11.6, 12.3, 11.4, 11.8, 12.1,
  10.7, 12.4, 12.0, 12.6, 11.8, 12.3, 12.7, 11.9, 12.5, 12.1,
  12.4, 11.8, 12.6, 12.0, 11.5, 12.3, 11.9, 12.2, 11.6, 12.1,
  11.7, 12.2, 11.4, 12.0, 11.6, 12.3, 11.5, 11.9, 12.1, 10.7,
  11.9, 12.4, 11.6, 13.0, 11.8, 12.1, 11.4, 12.2, 11.7, 12.0,
  11.5, 12.3, 11.8, 12.5, 11.6, 12.0, 11.3, 12.4, 10.3, 11.9,
  12.2, 13.1, 11.7, 12.4, 11.5, 12.0, 12.6, 11.8, 12.3, 11.6,
  12.4, 11.9, 12.2, 12.5, 11.7, 12.3, 12.0, 12.6, 11.8, 12.1,
  11.6, 12.2, 11.4, 12.0, 11.7, 12.3, 11.5, 11.9, 11.2, 12.1,
  11.8, 12.4, 11.5, 12.1, 11.9, 12.6, 11.7, 12.3, 12.0, 13.3,
  12.2, 11.7, 12.6, 12.0, 12.4, 11.8, 12.5, 12.1, 11.6, 12.3,
  11.9, 12.5, 11.7, 12.2, 12.0, 11.6, 12.4, 11.8, 12.3, 12.1,
  11.7, 12.3, 11.5, 12.0, 11.8, 11.3, 12.1, 11.4, 11.9, 11.6,
  11.9, 11.4, 12.2, 11.6, 12.0, 11.5, 12.3, 11.8, 12.5, 13.4,
  12.0, 12.6, 12.3, 11.8, 12.9, 12.4, 12.1, 12.7, 11.4, 12.5,
  12.8
]
const alpsUpper = [
  12.9, 13.4, 13.5, 13.2, 13.3, 13.5, 13.4, 13.6, 13.1, 13.3,
  13.4, 13.1, 13.3, 13.7, 12.9, 13.1, 12.8, 13.2, 13.0, 13.1,
  13.0, 13.3, 13.4, 12.7, 13.2, 13.3, 13.1, 14.2, 13.4, 13.2,
  13.5, 13.3, 13.7, 13.4, 13.6, 14.5, 13.8, 13.4, 13.6, 13.9,
  13.4, 13.6, 13.3, 13.5, 13.2, 13.3, 13.5, 13.2, 13.5, 13.3,
  13.6, 13.4, 15.6, 14.7, 12.9, 12.6, 13.5, 13.7, 13.9, 14.1,
  13.6, 13.8, 13.5, 13.7, 14.0, 13.9, 14.8, 13.7, 14.0, 13.8,
  15.2, 14.0, 13.7, 13.5, 13.6, 13.7, 13.4, 13.1, 13.5, 13.3,
  14.8, 13.4, 13.6, 13.8, 13.7, 13.8, 14.0, 13.7, 13.9, 13.6,
  13.8, 13.7, 14.0, 13.9, 13.6, 13.7, 14.0, 13.8, 13.9, 14.9,
  14.8, 13.7, 12.6, 13.1, 13.3, 12.9, 13.1, 12.8, 12.7, 13.2,
  13.3, 14.1, 13.2, 13.5, 13.1, 13.6, 13.4, 13.9, 13.7, 13.5,
  13.4, 13.6, 13.2, 13.5, 13.1, 13.3, 13.0, 13.1, 13.4, 13.2,
  13.5, 13.7, 13.4, 13.8, 13.6, 13.5, 13.7, 13.4, 13.3, 13.2,
  13.3, 13.1, 13.4, 13.0, 13.2, 13.5, 14.1, 13.2, 13.3, 13.1,
  13.4, 13.6, 13.1, 13.5, 13.0, 14.2, 13.5, 13.1, 13.7, 13.4,
  13.5, 13.6, 13.4, 13.7, 13.2, 13.3, 13.1, 13.4, 13.0, 13.2,
  13.5, 13.2, 13.7, 13.4, 14.4, 13.3, 13.7, 13.5, 13.6, 13.4,
  13.6, 13.3, 13.1, 13.5, 13.4, 13.4, 13.1, 12.9, 13.2, 13.0,
  13.0, 13.3, 13.1, 13.4, 14.5, 13.7, 13.4, 14.0, 13.8, 13.6,
  13.9
]
const alpsLower = [
  10.0, 10.3, 10.9, 10.4, 10.6, 10.5, 10.8, 10.7, 10.4, 10.8,
  10.3, 9.5, 10.5, 10.2, 10.4, 10.1, 9.3, 10.3, 10.0, 10.5,
  9.8, 10.4, 10.7, 10.1, 10.6, 10.3, 9.8, 10.7, 10.5, 10.4,
  10.6, 10.8, 10.7, 10.9, 10.8, 11.5, 11.0, 10.8, 11.1, 10.9,
  10.7, 10.9, 10.6, 10.2, 10.8, 10.5, 10.7, 10.4, 10.8, 10.6,
  10.8, 10.9, 10.2, 11.1, 9.4, 10.1, 10.9, 10.6, 11.0, 11.2,
  10.7, 11.0, 10.8, 10.9, 11.1, 11.2, 11.1, 11.3, 11.0, 11.2,
  11.7, 11.4, 11.1, 10.8, 10.3, 11.0, 10.7, 10.5, 10.6, 9.3,
  11.3, 10.8, 10.0, 10.9, 11.1, 11.0, 11.3, 11.1, 10.9, 11.2,
  11.1, 11.0, 11.3, 11.2, 10.9, 10.4, 11.1, 11.3, 11.0, 11.4,
  11.3, 10.8, 9.5, 10.2, 10.0, 9.3, 10.4, 10.1, 9.8, 10.2,
  10.3, 10.6, 10.4, 10.7, 9.5, 10.7, 10.5, 11.1, 10.8, 10.9,
  10.6, 10.8, 10.3, 10.7, 10.5, 10.4, 10.2, 10.5, 10.3, 10.7,
  9.6, 10.9, 10.7, 10.8, 11.0, 10.7, 10.9, 10.4, 10.8, 10.5,
  10.6, 10.3, 10.5, 10.4, 9.6, 10.8, 10.5, 10.7, 10.3, 10.6,
  10.4, 10.7, 10.5, 10.2, 9.1, 11.0, 10.6, 10.4, 10.7, 10.5,
  10.8, 11.1, 10.6, 10.9, 10.7, 10.5, 10.3, 10.6, 10.4, 10.1,
  10.7, 10.4, 10.8, 10.6, 10.9, 10.6, 10.9, 10.7, 11.0, 10.5,
  10.8, 10.6, 10.5, 10.7, 11.0, 10.6, 10.4, 10.2, 10.3, 10.5,
  10.3, 10.5, 10.4, 10.7, 11.4, 10.9, 10.7, 11.3, 11.0, 10.3,
  11.7
]
const alpsSmooth = [
  11.6, 11.85, 12.02, 12.05, 11.95, 11.8, 11.63, 11.62, 11.72, 11.8,
  11.88, 11.95, 12.05, 12.2, 12.35, 12.3, 12.12, 11.98, 11.94, 12.05,
  12.22, 12.3, 12.22, 12.15, 12.2, 12.32, 12.45, 12.5, 12.48, 12.42,
  12.2, 12.02, 12.08, 12.22, 12.32, 12.36, 12.38, 12.4, 12.42, 12.43,
  12.3, 12.0, 11.65, 11.5, 11.62, 11.9, 12.1, 12.18, 12.05, 11.88,
  11.76, 11.85, 12.05, 12.14, 12.1, 11.98, 11.85, 11.8, 11.82, 11.88,
  11.9, 11.9, 11.92, 12.0, 12.1, 12.05, 11.88, 11.78, 11.82, 12.0,
  12.1, 12.08, 12.02, 12.0, 11.95, 11.82, 11.76, 11.95, 12.22, 12.35,
  12.42
]
const alpsObs = [
  11.8, 12.1, 11.4, 11.7, 11.2, 11.5, 11.0, 11.6, 10.8, 11.3,
  10.7, 11.9, 11.2, 11.5, 11.6, 11.3, 11.8, 11.4, 11.9, 11.5,
  11.9, 11.6, 12.0, 11.7, 12.2, 11.8, 11.5, 12.1, 11.7, 12.0,
  11.8, 12.2, 11.6, 11.9, 12.3, 11.7, 12.0, 11.5, 11.9, 12.2,
  12.4, 11.9, 12.6, 12.1, 12.8, 12.3, 13.1, 12.5, 12.9, 12.4,
  12.2, 12.6, 11.9, 12.3, 12.0, 12.5, 12.1, 11.8, 12.4, 12.0,
  11.8, 12.2, 11.6, 12.0, 11.7, 12.1, 11.5, 11.9, 11.4, 11.8,
  11.5, 11.9, 11.2, 11.6, 11.0, 11.4, 10.3, 11.1, 11.6, 11.3,
  11.8, 12.2, 11.6, 12.4, 12.0, 12.6, 12.2, 12.9, 12.5, 13.0,
  12.5, 13.0, 12.6, 13.8, 12.7, 12.3, 13.2, 12.5, 13.0, 13.2,
  13.0, 13.3, 15.2, 12.9, 13.6, 13.9, 13.4, 13.1, 13.7, 12.8,
  13.8, 13.2, 12.9, 14.1, 15.1, 13.5, 14.2, 14.4, 13.6, 14.6
]

const regions = [
  { recon: fennoRecon, upper: fennoUpper, lower: fennoLower, smooth: fennoSmooth, obs: fennoObs },
  { recon: westRecon, upper: westUpper, lower: westLower, smooth: westSmooth, obs: westObs },
  { recon: eastRecon, upper: eastUpper, lower: eastLower, smooth: eastSmooth, obs: eastObs },
  { recon: alpsRecon, upper: alpsUpper, lower: alpsLower, smooth: alpsSmooth, obs: alpsObs }
]

// ---- layout / style ----
const RED = '#c8102e'
const BLUE = '#1b75bc'
const MEAN_BLUE = '#2f86c8'
const GREY = '#d1d2d4'
const RED_TEXT = '#c8202f'
const ARIAL = '"Liberation Sans", Arial, sans-serif'
const MYRIAD = '"Open Sans", "Noto Sans", sans-serif'

// value range and share of the plot height for each stacked panel
const panelRange = [[0.02, 11.08], [2.08, 13.41], [4.0, 13.4], [7.99, 19.88]]
const panelHeight = [312, 320, 265, 333]

// text positions (baselines) per panel
const panelText = [
  { title: 78, stats: 78, statsX: 88, mean: 105, meanRight: 963, years: [124, 143], mark: 308, markX: 305 },
  { title: 332, stats: 358, statsX: 88, mean: 358, meanRight: 976, years: [383, 402, 421], mark: 613, markX: 307 },
  { title: 645, stats: 666, statsX: 89, mean: 669, meanRight: 970, years: [692, 711], mark: 898, markX: 309 },
  { title: 970, stats: 984, statsX: 89, mean: 995, meanRight: 974, years: [1016, 1035], mark: 1181, markX: 309 }
]

function series(values, start, step) {
  return values.map((v, i) => ({ x: start + i * step, y: v }))
}

const datasets = []
regions.forEach((r, k) => {
  const axis = 'y' + k
  datasets.push({ data: series(r.smooth, reconStart, smoothStep), yAxisID: axis, borderColor: RED, borderWidth: 2.6, tension: 0.4, order: 1 })
  datasets.push({ data: series(r.recon, reconStart, 1), yAxisID: axis, borderColor: RED, borderWidth: 1.3, order: 2 })
  datasets.push({ data: series(r.obs, obsStart, 1), yAxisID: axis, borderColor: BLUE, borderWidth: 1.3, order: 3 })
  datasets.push({ data: [{ x: 1600, y: obsMeans[k] }, { x: 2020, y: obsMeans[k] }], yAxisID: axis, borderColor: MEAN_BLUE, borderWidth: 1.3, order: 4 })
  datasets.push({ data: series(r.upper, reconStart, bandStep), yAxisID: axis, borderWidth: 0, borderColor: GREY, backgroundColor: GREY, fill: '+1', order: 5 })
  datasets.push({ data: series(r.lower, reconStart, bandStep), yAxisID: axis, borderWidth: 0, borderColor: GREY, backgroundColor: GREY, fill: false, order: 5 })
})

const scales = {
  x: {
    type: 'linear', position: 'bottom', min: 1600, max: 2019.8,
    afterBuildTicks: s => { s.ticks = xTicks.map(v => ({ value: v })) },
    afterFit: s => { s.height = 63; s.paddingLeft = 0; s.paddingRight = 0 },
    ticks: { font: { family: ARIAL, size: 20.5 }, color: '#000', padding: 6, labelOffset: 6, autoSkip: false, maxRotation: 0, callback: v => String(v) },
    grid: { drawOnChartArea: false, tickLength: 7, color: '#000' },
    border: { color: '#000', width: 1 }
  }
}
regions.forEach((r, k) => {
  scales['y' + k] = {
    type: 'linear', position: 'left', stack: 'vpd', stackWeight: panelHeight[k], weight: 10 - k,
    min: panelRange[k][0], max: panelRange[k][1],
    afterBuildTicks: s => { s.ticks = yTicks[k].map(v => ({ value: v })) },
    afterFit: s => { s.width = 70; s.paddingTop = 0; s.paddingBottom = 0 },
    ticks: { font: { family: ARIAL, size: 21 }, color: '#000', padding: 7 },
    grid: { drawOnChartArea: false, tickLength: 5, color: '#000' },
    border: { color: '#000', width: 1 }
  }
})

function drawRuns(ctx, runs, x, y, align) {
  let w = 0
  runs.forEach(r => { ctx.font = r[1]; w += ctx.measureText(r[0]).width })
  let cx = align === 'right' ? x - w : x
  ctx.textAlign = 'left'
  ctx.textBaseline = 'alphabetic'
  runs.forEach(r => { ctx.font = r[1]; ctx.fillText(r[0], cx, y); cx += ctx.measureText(r[0]).width })
}

const annotate = {
  id: 'annotate',
  afterDraw(chart) {
    const ctx = chart.ctx
    const area = chart.chartArea
    const big = '20.3px ' + MYRIAD
    const small = '13.2px ' + MYRIAD
    ctx.save()

    // top frame line
    ctx.strokeStyle = '#000'
    ctx.lineWidth = 1
    ctx.beginPath()
    ctx.moveTo(area.left, area.top + 0.5)
    ctx.lineTo(area.right, area.top + 0.5)
    ctx.stroke()

    // legend
    ctx.lineWidth = 2.5
    ctx.strokeStyle = RED
    ctx.beginPath(); ctx.moveTo(95, 27); ctx.lineTo(115, 27); ctx.stroke()
    ctx.strokeStyle = BLUE
    ctx.beginPath(); ctx.moveTo(330, 27); ctx.lineTo(351, 27); ctx.stroke()
    ctx.fillStyle = '#000'
    ctx.font = '21.6px ' + ARIAL
    ctx.textAlign = 'left'
    ctx.textBaseline = 'alphabetic'
    ctx.fillText('reconstructed VPD', 122, 35)
    ctx.fillText('observed VPD', 358, 35)

    // axis titles
    ctx.font = '24px ' + ARIAL
    ctx.textAlign = 'center'
    ctx.textBaseline = 'middle'
    ctx.fillText('Years CE', 562, 1290)
    ctx.font = '23px ' + ARIAL
    ctx.save()
    ctx.translate(22, 204)
    ctx.rotate(-Math.PI / 2)
    ctx.fillText('VPD (hPa)', 0, 0)
    ctx.restore()

    regionNames.forEach((name, k) => {
      const t = panelText[k]
      ctx.fillStyle = '#000'
      ctx.font = '23.6px ' + ARIAL
      ctx.textAlign = 'right'
      ctx.textBaseline = 'alphabetic'
      ctx.fillText(name, 974, t.title)

      ctx.fillStyle = RED_TEXT
      drawRuns(ctx, [
        ['mean', big], ['1600-2000', small], [': ' + reconMeanAll[k].toFixed(2) + '; mean', big],
        ['1971-2000', small], [': ' + reconMeanRecent[k].toFixed(2) + '; SD', big],
        ['1600-2000', small], [': ' + reconSD[k].toFixed(2), big]
      ], t.statsX, t.stats, 'left')

      ctx.fillStyle = BLUE
      drawRuns(ctx, [['mean', big], ['1991-2020', small], [': ' + obsMeans[k].toFixed(2), big]], t.meanRight, t.mean, 'right')

      ctx.font = 'italic 14px ' + MYRIAD
      ctx.textAlign = 'right'
      extremeYears[k].forEach((yr, j) => ctx.fillText(yr, 984, t.years[j]))

      ctx.fillStyle = '#000'
      ctx.font = 'italic bold 14px ' + ARIAL
      ctx.textAlign = 'center'
      ctx.fillText(markedYear, t.markX, t.mark)
    })
    ctx.restore()
  }
}

new Chart(document.getElementById('vpdChart'), {
  type: 'line',
  data: { datasets },
  options: {
    responsive: true,
    maintainAspectRatio: false,
    animation: false,
    parsing: false,
    normalized: true,
    layout: { padding: { top: 8, left: 0, right: 0, bottom: 0 } },
    elements: { point: { radius: 0 }, line: { borderJoinStyle: 'round' } },
    plugins: { legend: { display: false }, tooltip: { enabled: false } },
    scales
  },
  plugins: [annotate]
})
</script>
</body>
</html>
